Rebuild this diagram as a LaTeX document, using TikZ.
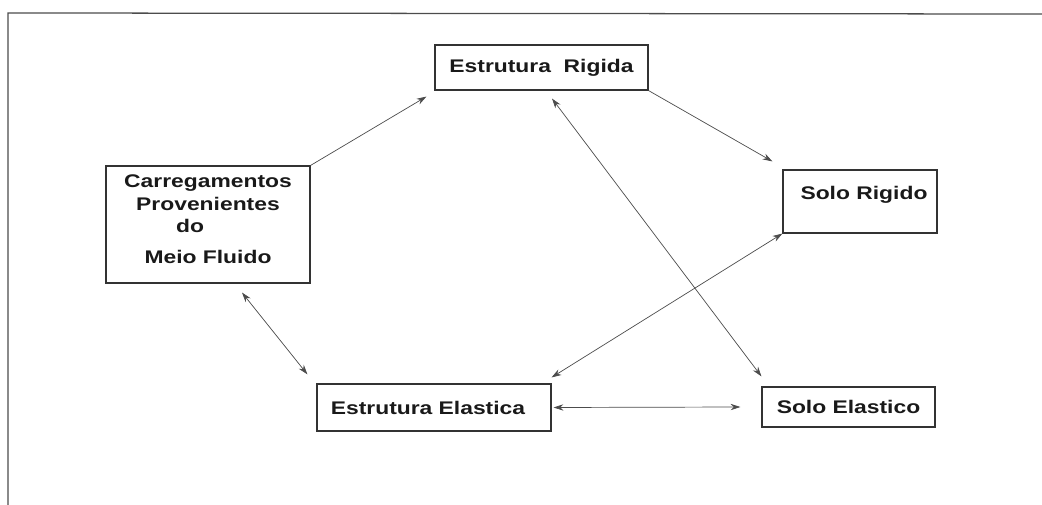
\documentclass[tikz,border=0pt]{standalone}
\usepackage{fontspec}
\setmainfont[FakeStretch=1.25]{Liberation Sans}
\usetikzlibrary{arrows.meta}

\begin{document}
\begin{tikzpicture}[x=0.025cm, y=-0.025cm]
    \tikzstyle{box}=[draw=black!80,line width=0.8pt,rectangle,inner sep=2pt,
        font=\fontsize{13}{16}\selectfont\bfseries,text=black!90]
    \tikzstyle{link}=[draw=black!70,line width=0.5pt,
        {Stealth[length=7pt,width=4.5pt]}-{Stealth[length=7pt,width=4.5pt]}]
    \tikzstyle{onelink}=[draw=black!70,line width=0.5pt,-{Stealth[length=7pt,width=4.5pt]}]
    \useasboundingbox (0,0) rectangle (1042,505);

    % frame
    \draw[black!70,line width=0.9pt] (1042,14) -- (8,13) -- (8,505);

    \node[box,minimum width=213*0.025cm,minimum height=45*0.025cm] (ER) at (541.5,67.5) {Estrutura\ \ Rigida};
    \node[box,minimum width=204*0.025cm,minimum height=117*0.025cm,align=center,text depth=0.25cm] (CM) at (208,224.5)
        {Carregamentos\\Provenientes\\do\hspace*{0.9cm}\mbox{}\\[6pt]Meio Fluido};
    \node[box,minimum width=154*0.025cm,minimum height=63*0.025cm,text depth=0.45cm] (SR) at (860,201.5) {\hspace*{0.2cm}Solo Rigido};
    \node[box,minimum width=234*0.025cm,minimum height=47*0.025cm] (EE) at (434,407.5) {Estrutura Elastica\hspace*{0.3cm}};
    \node[box,minimum width=173*0.025cm,minimum height=40*0.025cm] (SE) at (848.5,407) {Solo Elastico};

    \draw[onelink] (CM.north east) -- ([shift={(-8,6)}]ER.south west);
    \draw[onelink] (ER.south east) -- ([shift={(-10,-8)}]SR.north west);
    \draw[link] ([shift={(10.5,8)}]ER.south) -- ([shift={(0,-10)}]SE.north west);
    \draw[link] (SR.south west) -- ([shift={(0,-6)}]EE.north east);
    \draw[link] ([shift={(34,9)}]CM.south) -- ([shift={(-9,-9)}]EE.north west);
    \draw[link] ([shift={(2,0)}]EE.east) -- ([shift={(-21,0)}]SE.west);
\end{tikzpicture}
\end{document}
